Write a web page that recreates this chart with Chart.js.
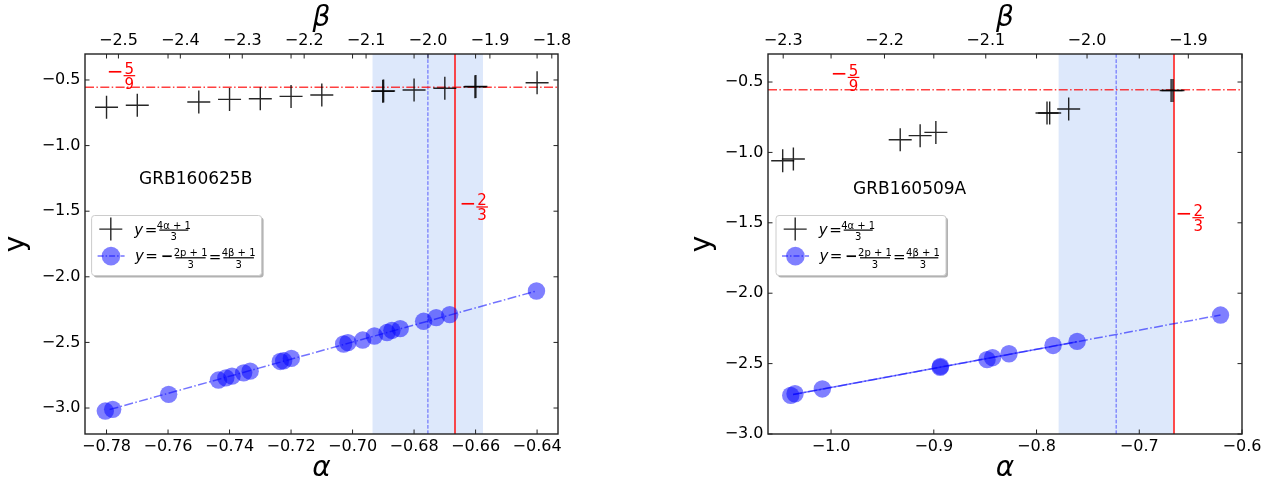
<!DOCTYPE html>
<html>
<head>
<meta charset="utf-8">
<script src="https://cdn.jsdelivr.net/npm/chart.js@4.4.1/dist/chart.umd.min.js"></script>
<style>
  html, body { margin: 0; padding: 0; background: #fff; }
  canvas { position: absolute; top: 0; }
  #left { left: 0; }
  #right { left: 640px; }
</style>
</head>
<body>
<canvas id="left" width="640" height="486"></canvas>
<canvas id="right" width="638" height="486"></canvas>
<script>
// GRB160625B (left panel)
const crossAlphaL = [-0.780, -0.770, -0.750, -0.740, -0.730, -0.720, -0.710, -0.6902, -0.6899, -0.680, -0.670, -0.6602, -0.6599, -0.640];
const crossYL = [-0.708, -0.693, -0.668, -0.648, -0.643, -0.625, -0.615, -0.586, -0.584, -0.576, -0.563, -0.552, -0.550, -0.521];
const dotAlphaL = [-0.7804, -0.7780, -0.7598, -0.7436, -0.7412, -0.7392, -0.7354, -0.7333, -0.7235, -0.7224, -0.7199,
                   -0.7029, -0.7015, -0.6967, -0.6929, -0.6888, -0.6872, -0.6845, -0.6769, -0.6728, -0.6684, -0.6402];
const dotYL = [-3.023, -3.010, -2.896, -2.787, -2.770, -2.757, -2.732, -2.719, -2.645, -2.640, -2.622,
               -2.512, -2.502, -2.482, -2.451, -2.425, -2.408, -2.395, -2.339, -2.311, -2.288, -2.108];
const fitAlphaL = [-0.779, -0.6402];
const fitYL = [-3.012, -2.108];
const bandL = [-0.6935, -0.6576];
const bandMidL = -0.6755;
const alphaTicksL = [-0.78, -0.76, -0.74, -0.72, -0.70, -0.68, -0.66, -0.64];
const betaTicksL = [-2.5, -2.4, -2.3, -2.2, -2.1, -2.0, -1.9, -1.8];
const yTicksL = [-0.5, -1.0, -1.5, -2.0, -2.5, -3.0];

// GRB160509A (right panel)
const crossAlphaR = [-1.0471, -1.0367, -0.9327, -0.9133, -0.8980, -0.7898, -0.7872, -0.7687, -0.6690, -0.6672];
const crossYR = [-1.059, -1.047, -0.910, -0.881, -0.858, -0.720, -0.720, -0.692, -0.560, -0.560];
const dotAlphaR = [-1.0393, -1.0351, -1.0085, -0.8938, -0.8935, -0.8482, -0.8428, -0.8268, -0.7839, -0.7605, -0.6209];
const dotYR = [-2.726, -2.714, -2.680, -2.527, -2.520, -2.472, -2.458, -2.430, -2.371, -2.342, -2.155];
const fitAlphaR = [-1.037, -0.6209];
const fitYR = [-2.720, -2.155];
const segAlphaR = [-1.037, -0.7605];
const segYR = [-2.720, -2.344];
const bandR = [-0.7785, -0.6667];
const bandMidR = -0.7225;
const alphaTicksR = [-1.0, -0.9, -0.8, -0.7, -0.6];
const betaTicksR = [-2.3, -2.2, -2.1, -2.0, -1.9];
const yTicksR = [-0.5, -1.0, -1.5, -2.0, -2.5, -3.0];

const SLOPE_LINE = -2 / 3;   // red vertical
const FLAT_LINE = -5 / 9;    // red horizontal

Chart.defaults.font.family = 'DejaVu Sans';
Chart.defaults.color = '#000';

const fmt = d => v => (v < 0 ? '\u2212' : '') + Math.abs(v).toFixed(d);
const pts = (xs, ys) => xs.map((x, i) => ({ x: x, y: ys[i] }));

function axis(pos, min, max, vals, dec, title, titleFont, titlePad, size, tickPad) {
  return {
    type: 'linear', position: pos, min: min, max: max,
    afterBuildTicks: s => { s.ticks = vals.map(v => ({ value: v })); },
    afterFit: s => { if (s.isHorizontal()) s.height = size; else s.width = size; },
    grid: { display: false, drawTicks: false },
    border: { display: false },
    ticks: { color: '#000', font: { size: 16 }, padding: tickPad, maxRotation: 0, autoSkip: false, callback: fmt(dec) },
    title: { display: true, text: title, color: '#000', font: titleFont, padding: titlePad }
  };
}

function drawFrac(ctx, cx, bar, num, den, size, halfW) {
  ctx.font = size + 'px "DejaVu Sans"';
  ctx.textAlign = 'center';
  ctx.textBaseline = 'alphabetic';
  ctx.fillText(num, cx, bar - 1.5);
  ctx.fillText(den, cx, bar + 2.5 + size * 0.73);
  ctx.fillRect(cx - halfW, bar - 0.6, halfW * 2, 1.2);
}

function drawLegend(ctx, x0, y0) {
  const w = 170, h = 60;
  ctx.save();
  ctx.fillStyle = 'rgba(0,0,0,0.3)';
  ctx.beginPath(); ctx.roundRect(x0 + 2, y0 + 2, w, h, 3); ctx.fill();
  ctx.fillStyle = '#fff';
  ctx.beginPath(); ctx.roundRect(x0, y0, w, h, 3); ctx.fill();
  ctx.strokeStyle = '#cccccc'; ctx.lineWidth = 1; ctx.stroke();

  // row 1: cross
  ctx.strokeStyle = 'rgba(0,0,0,0.85)'; ctx.lineWidth = 1.4;
  ctx.beginPath();
  ctx.moveTo(x0 + 7.7, y0 + 13.6); ctx.lineTo(x0 + 30.7, y0 + 13.6);
  ctx.moveTo(x0 + 19.2, y0 + 2.1); ctx.lineTo(x0 + 19.2, y0 + 25.1);
  ctx.stroke();
  ctx.fillStyle = '#000';
  ctx.font = 'italic 15px "DejaVu Sans"'; ctx.textAlign = 'left'; ctx.textBaseline = 'alphabetic';
  ctx.fillText('y', x0 + 42.7, y0 + 19);
  ctx.font = '15px "DejaVu Sans"'; ctx.textAlign = 'center';
  ctx.fillText('=', x0 + 59.5, y0 + 19);
  drawFrac(ctx, x0 + 82.2, y0 + 14.6, '4\u03b1 + 1', '3', 10, 14.5);

  // row 2: circle + dash-dot
  ctx.strokeStyle = 'rgba(0,0,255,0.55)'; ctx.lineWidth = 1.5; ctx.setLineDash([6, 2, 1.5, 2]);
  ctx.beginPath(); ctx.moveTo(x0 + 6, y0 + 40.6); ctx.lineTo(x0 + 33, y0 + 40.6); ctx.stroke();
  ctx.setLineDash([]);
  ctx.fillStyle = 'rgba(0,0,255,0.5)';
  ctx.beginPath(); ctx.arc(x0 + 19.4, y0 + 40.6, 9.3, 0, Math.PI * 2); ctx.fill();
  ctx.fillStyle = '#000';
  ctx.font = 'italic 15px "DejaVu Sans"'; ctx.textAlign = 'left';
  ctx.fillText('y', x0 + 43.4, y0 + 45);
  ctx.font = '15px "DejaVu Sans"'; ctx.textAlign = 'center';
  ctx.fillText('=', x0 + 60, y0 + 45);
  ctx.font = 'bold 15px "DejaVu Sans"';
  ctx.fillText('\u2212', x0 + 75.4, y0 + 45);
  drawFrac(ctx, x0 + 99, y0 + 42.3, '2p + 1', '3', 10, 15);
  ctx.font = '15px "DejaVu Sans"'; ctx.textAlign = 'center'; ctx.textBaseline = 'alphabetic';
  ctx.fillText('=', x0 + 123.4, y0 + 46);
  drawFrac(ctx, x0 + 147, y0 + 42.3, '4\u03b2 + 1', '3', 10, 15.3);
  ctx.restore();
}

const decor = {
  id: 'decor',
  beforeDatasetsDraw(chart, args, o) {
    const { ctx, chartArea: ca } = chart;
    const x = chart.scales.x, y = chart.scales.y;
    ctx.save();
    const b0 = x.getPixelForValue(o.band[0]), b1 = x.getPixelForValue(o.band[1]);
    ctx.fillStyle = 'rgba(100,149,237,0.22)';
    ctx.fillRect(b0, ca.top, b1 - b0, ca.bottom - ca.top);

    const bm = x.getPixelForValue(o.bandMid);
    ctx.strokeStyle = 'rgba(0,0,255,0.6)'; ctx.lineWidth = 1; ctx.setLineDash([3.7, 1.6]);
    ctx.beginPath(); ctx.moveTo(bm, ca.top); ctx.lineTo(bm, ca.bottom); ctx.stroke();

    const rv = Math.round(x.getPixelForValue(SLOPE_LINE));
    ctx.setLineDash([]); ctx.strokeStyle = 'rgba(255,30,30,0.8)'; ctx.lineWidth = 2;
    ctx.beginPath(); ctx.moveTo(rv, ca.top); ctx.lineTo(rv, ca.bottom); ctx.stroke();

    const rh = y.getPixelForValue(FLAT_LINE);
    ctx.strokeStyle = 'rgba(255,0,0,0.75)';
    ctx.lineWidth = 1.5; ctx.setLineDash([9, 2.4, 1.5, 2.4]);
    ctx.beginPath(); ctx.moveTo(ca.left, rh); ctx.lineTo(ca.right, rh); ctx.stroke();
    ctx.restore();
  },
  afterDraw(chart, args, o) {
    const { ctx, chartArea: ca } = chart;
    const x = chart.scales.x, xt = chart.scales.xTop, y = chart.scales.y;
    ctx.save();
    // frame
    ctx.strokeStyle = '#222'; ctx.lineWidth = 1.4;
    ctx.strokeRect(ca.left, ca.top, ca.right - ca.left, ca.bottom - ca.top);
    // inward ticks
    const tl = 4.5;
    ctx.lineWidth = 1; ctx.beginPath();
    x.ticks.forEach(t => {
      const p = x.getPixelForValue(t.value);
      ctx.moveTo(p, ca.bottom); ctx.lineTo(p, ca.bottom - tl);
      ctx.moveTo(p, ca.top); ctx.lineTo(p, ca.top + tl);
    });
    xt.ticks.forEach(t => {
      const p = xt.getPixelForValue(t.value);
      ctx.moveTo(p, ca.top); ctx.lineTo(p, ca.top + tl);
    });
    y.ticks.forEach(t => {
      const p = y.getPixelForValue(t.value);
      ctx.moveTo(ca.left, p); ctx.lineTo(ca.left + tl, p);
      ctx.moveTo(ca.right, p); ctx.lineTo(ca.right - tl, p);
    });
    ctx.stroke();

    // red fraction notes
    ctx.fillStyle = '#ff0000';
    o.notes.forEach(n => {
      const mx = x.getPixelForValue(n.x), my = y.getPixelForValue(n.y);
      ctx.font = '20px "DejaVu Sans"'; ctx.textAlign = 'left'; ctx.textBaseline = 'middle';
      ctx.fillText('\u2212', mx - 2, my + 0.5);
      drawFrac(ctx, mx + 20.7, my + 3, n.num, n.den, 15, 5.8);
    });

    // burst name
    ctx.fillStyle = '#000';
    ctx.font = '17px "DejaVu Sans"'; ctx.textAlign = 'center'; ctx.textBaseline = 'middle';
    ctx.fillText(o.name, x.getPixelForValue(o.nameAt[0]), y.getPixelForValue(o.nameAt[1]));

    drawLegend(ctx, ca.left + o.legendDx, ca.top + 161.5);
    ctx.restore();
  }
};

function makePanel(id, p) {
  return new Chart(document.getElementById(id), {
    type: 'scatter',
    data: {
      datasets: [
        { data: pts(p.dotA, p.dotY), pointStyle: 'circle', pointRadius: 8.7, pointHoverRadius: 8.7,
          backgroundColor: 'rgba(0,0,255,0.5)', borderWidth: 0 },
        { data: pts(p.crossA, p.crossY), pointStyle: 'cross', pointRadius: 11.5, pointHoverRadius: 11.5,
          borderColor: 'rgba(0,0,0,0.85)', pointBorderWidth: 1.4, backgroundColor: 'rgba(0,0,0,0)' },
        { type: 'line', data: pts(p.fitA, p.fitY), borderColor: 'rgba(0,0,255,0.55)', borderWidth: 1.5,
          borderDash: [9, 2.4, 1.5, 2.4], pointRadius: 0, fill: false },
        ...(p.segA ? [{ type: 'line', data: pts(p.segA, p.segY), borderColor: 'rgba(0,0,255,0.5)', borderWidth: 1.5,
          pointRadius: 0, fill: false }] : [])
      ]
    },
    options: {
      responsive: false, animation: false, events: [],
      layout: { padding: { left: p.padL, right: p.padR, top: 0, bottom: 0 } },
      plugins: {
        legend: { display: false }, tooltip: { enabled: false },
        decor: { band: p.band, bandMid: p.bandMid, notes: p.notes, name: p.name, nameAt: p.nameAt, legendDx: p.legendDx }
      },
      scales: {
        x: axis('bottom', p.xMin, p.xMax, p.aTicks, p.aDec, '\u03b1', { size: 28, style: 'italic' }, { top: 0, bottom: 0 }, 52, 3),
        xTop: Object.assign(axis('top', p.bMin, p.bMax, p.bTicks, 1, '\u03b2', { size: 28, style: 'italic' }, { top: 2, bottom: 0 }, 54, 3.5), { axis: 'x' }),
        y: axis('left', p.yMin, p.yMax, p.yTicks, 1, 'y', { size: 28 }, { top: 0, bottom: 0 }, p.yW, 4.5)
      }
    },
    plugins: [decor]
  });
}

makePanel('left', {
  dotA: dotAlphaL, dotY: dotYL, crossA: crossAlphaL, crossY: crossYL, fitA: fitAlphaL, fitY: fitYL,
  band: bandL, bandMid: bandMidL,
  xMin: -0.7870, xMax: -0.6332, bMin: -2.554, bMax: -1.790, yMin: -3.198, yMax: -0.302,
  aTicks: alphaTicksL, aDec: 2, bTicks: betaTicksL, yTicks: yTicksL,
  padL: 0, padR: 82, yW: 85, legendDx: 6.6,
  name: 'GRB160625B', nameAt: [-0.751, -1.26],
  notes: [{ x: -0.7793, y: -0.4444, num: '5', den: '9' }, { x: -0.6646, y: -1.445, num: '2', den: '3' }]
});

makePanel('right', {
  dotA: dotAlphaR, dotY: dotYR, crossA: crossAlphaR, crossY: crossYR, fitA: fitAlphaR, fitY: fitYR,
  segA: segAlphaR, segY: segYR,
  band: bandR, bandMid: bandMidR,
  xMin: -1.0614, xMax: -0.600, bMin: -2.315, bMax: -1.847, yMin: -3.0, yMax: -0.301,
  aTicks: alphaTicksR, aDec: 1, bTicks: betaTicksR, yTicks: yTicksR,
  padL: 46, padR: 36, yW: 82, legendDx: 8,
  name: 'GRB160509A', nameAt: [-0.9235, -1.263],
  notes: [{ x: -0.9983, y: -0.446, num: '5', den: '9' }, { x: -0.6628, y: -1.4425, num: '2', den: '3' }]
});
</script>
</body>
</html>
